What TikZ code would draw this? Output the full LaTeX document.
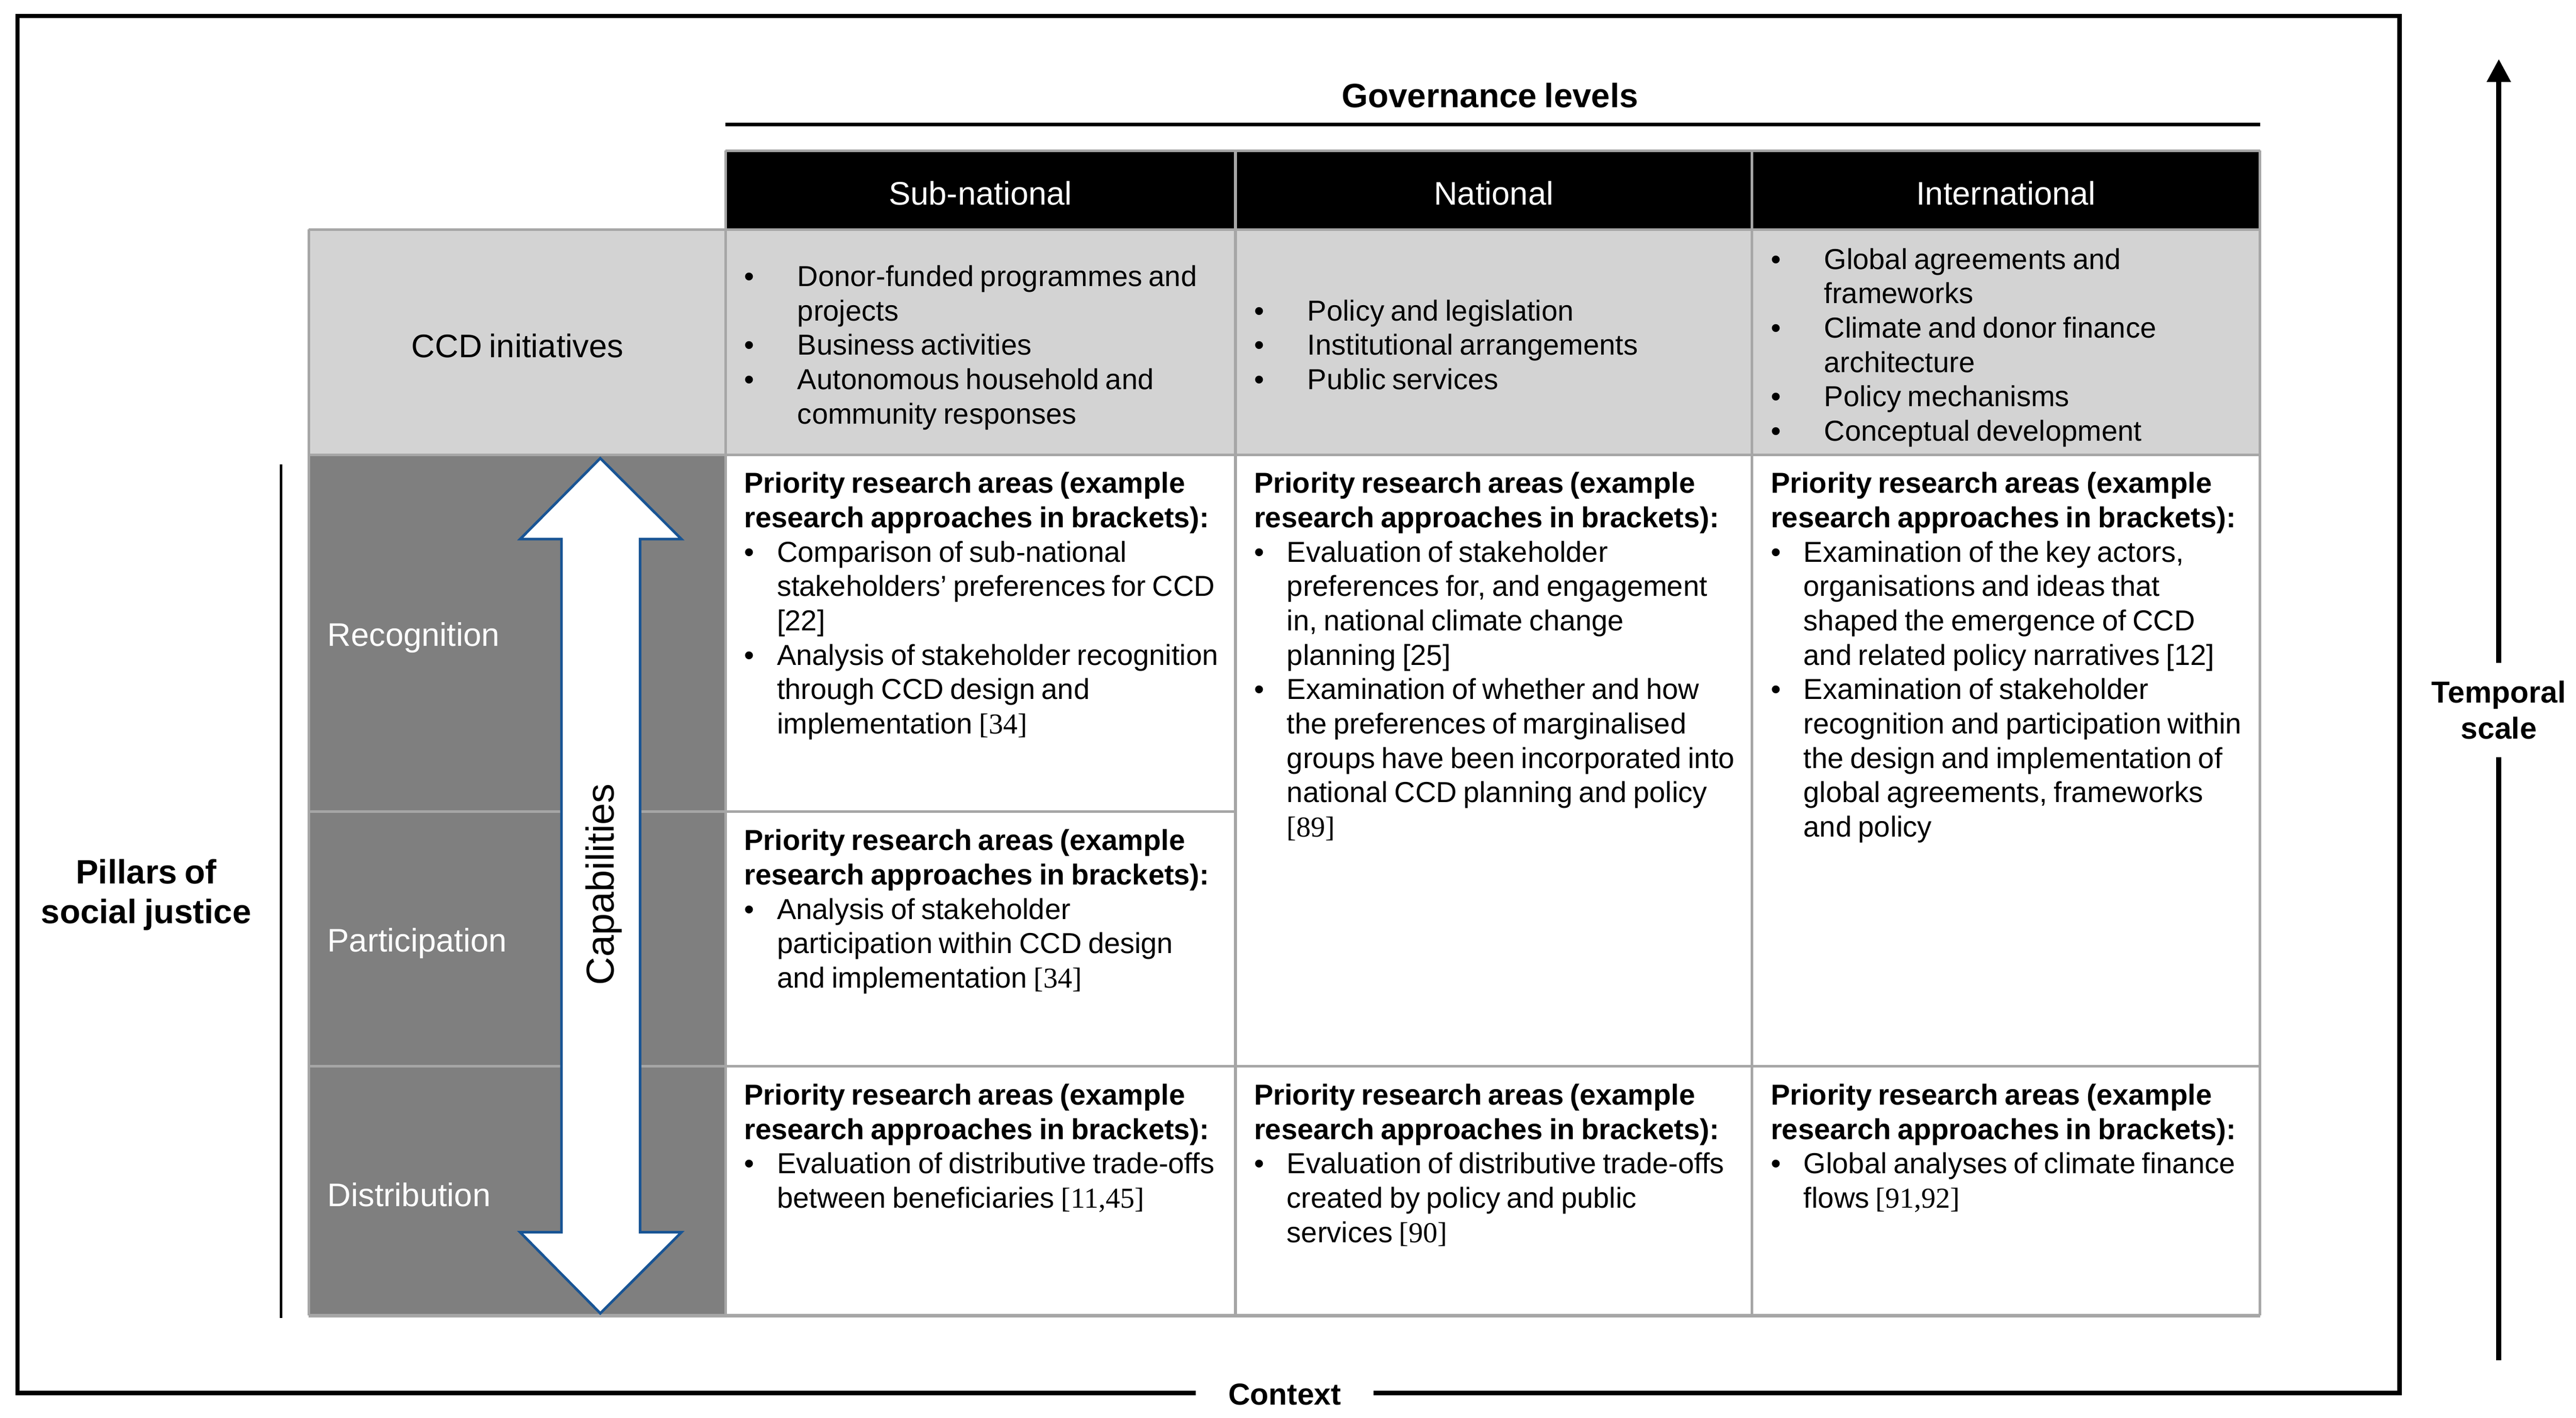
\documentclass[tikz,border=0pt]{standalone}
\usepackage{fontspec}
\setmainfont{Liberation Sans}[WordSpace=0.8]
\newfontfamily\reffont{Liberation Serif}
\usetikzlibrary{arrows.meta, positioning}
\definecolor{gridgray}{RGB}{166,166,166}
\definecolor{ccdgray}{RGB}{211,211,211}
\definecolor{pillargray}{RGB}{127,127,127}
\definecolor{arrowblue}{RGB}{24,84,148}
\tikzstyle{grid} = [
	draw=gridgray,
	line width=0.9pt
]
\tikzstyle{frame} = [
	line width=1.5pt
]
\tikzstyle{header} = [
	text=white,
	font=\fontsize{11.3}{13.5}\selectfont
]
\tikzstyle{rowlabel} = [
	anchor=west,
	inner sep=0pt,
	text=white,
	font=\fontsize{11.3}{13.5}\selectfont
]
\tikzstyle{axislabel} = [
	align=center,
	font=\bfseries\fontsize{11.7}{13.8}\selectfont
]
\tikzstyle{sidelabel} = [
	align=center,
	font=\bfseries\fontsize{10.5}{12.5}\selectfont
]
\tikzstyle{ccdcell} = [
	anchor=west,
	inner sep=0pt,
	font=\fontsize{10}{11.9}\selectfont
]
\tikzstyle{researchcell} = [
	anchor=base west,
	inner sep=0pt,
	font=\fontsize{10}{11.9}\selectfont
]
\tikzstyle{doublearrow} = [
	draw=arrowblue,
	fill=white,
	line width=0.9pt
]
\tikzstyle{arrow} = [line width=1.8pt, -{Triangle[length=0.28cm, width=0.28cm]}]
\newcommand{\bul}{\makebox[0.4cm][l]{\textbullet}}
\newcommand{\cbul}{\makebox[0.65cm][l]{\textbullet}}
\newcommand{\citeno}[1]{{\reffont[#1]}}
\newcommand{\priohead}{\multicolumn{2}{@{}l@{}}{\bfseries Priority research areas (example}\\
	\multicolumn{2}{@{}l@{}}{\bfseries research approaches in brackets):}\\}
\begin{document}
\begin{tikzpicture}[x=0.02cm, y=-0.02cm]
	\useasboundingbox (0,0) rectangle (1568,862.7);

	\fill[black] (441.6,91.7) rectangle (1375.6,139.7);
	\fill[ccdgray] (188,139.7) rectangle (1375.6,276.6);
	\fill[pillargray] (188,276.6) rectangle (441.6,800.4);

	\draw[grid] (441.6,91.7) -- (1375.6,91.7);
	\draw[grid] (188,139.7) -- (1375.6,139.7);
	\draw[grid] (188,276.6) -- (1375.6,276.6);
	\draw[grid] (188,493.9) -- (752,493.9);
	\draw[grid] (188,648.7) -- (1375.6,648.7);
	\draw[grid, line width=1.2pt] (188,800.4) -- (1375.6,800.4);
	\draw[grid] (188,139.7) -- (188,800.4);
	\draw[grid] (441.6,91.7) -- (441.6,800.4);
	\draw[grid] (752,91.7) -- (752,800.4);
	\draw[grid] (1066.5,91.7) -- (1066.5,800.4);
	\draw[grid] (1375.6,91.7) -- (1375.6,800.4);

	\node (gov) [axislabel] at (907,58) {Governance levels};
	\draw[line width=1.2pt] (441.6,75.8) -- (1375.6,75.8);

	\node (hsub) [header] at (596.8,117.7) {Sub-national};
	\node (hnat) [header] at (909.2,117.7) {National};
	\node (hint) [header] at (1221,117.7) {International};

	\node (ccd) [font=\fontsize{11.3}{13.5}\selectfont] at (315,210.3) {CCD initiatives};
	\node (rec) [rowlabel] at (199,387.8) {Recognition};
	\node (par) [rowlabel] at (199,573.8) {Participation};
	\node (dis) [rowlabel] at (199,727) {Distribution};

	\draw[doublearrow] (365.4,278.8) -- (414.8,328) -- (389.6,328) -- (389.6,749.7) -- (414.8,749.7)
		-- (365.4,799) -- (316.6,749.7) -- (341.8,749.7) -- (341.8,328) -- (316.6,328) -- cycle;
	\node (cap) [rotate=90, font=\fontsize{13.5}{16}\selectfont] at (367.5,538) {Capabilities};

	\node (subccd) [ccdcell] at (452.6,211.8) {\begin{tabular}{@{}l@{}l@{}}
		\cbul & Donor-funded programmes and\\
		& projects\\
		\cbul & Business activities\\
		\cbul & Autonomous household and\\
		& community responses
	\end{tabular}};
	\node (natccd) [ccdcell] at (763,211.8) {\begin{tabular}{@{}l@{}l@{}}
		\cbul & Policy and legislation\\
		\cbul & Institutional arrangements\\
		\cbul & Public services
	\end{tabular}};
	\node (intccd) [ccdcell] at (1077.5,211.8) {\begin{tabular}{@{}l@{}l@{}}
		\cbul & Global agreements and\\
		& frameworks\\
		\cbul & Climate and donor finance\\
		& architecture\\
		\cbul & Policy mechanisms\\
		\cbul & Conceptual development
	\end{tabular}};

	\node (subrec) [researchcell] at (452.6,300) {\begin{tabular}[t]{@{}l@{}l@{}}
		\priohead
		\bul & Comparison of sub-national\\
		& stakeholders’ preferences for CCD\\
		& [22]\\
		\bul & Analysis of stakeholder recognition\\
		& through CCD design and\\
		& implementation \citeno{34}
	\end{tabular}};
	\node (natrec) [researchcell] at (763,300) {\begin{tabular}[t]{@{}l@{}l@{}}
		\priohead
		\bul & Evaluation of stakeholder\\
		& preferences for, and engagement\\
		& in, national climate change\\
		& planning [25]\\
		\bul & Examination of whether and how\\
		& the preferences of marginalised\\
		& groups have been incorporated into\\
		& national CCD planning and policy\\
		& \citeno{89}
	\end{tabular}};
	\node (intrec) [researchcell] at (1077.5,300) {\begin{tabular}[t]{@{}l@{}l@{}}
		\priohead
		\bul & Examination of the key actors,\\
		& organisations and ideas that\\
		& shaped the emergence of CCD\\
		& and related policy narratives [12]\\
		\bul & Examination of stakeholder\\
		& recognition and participation within\\
		& the design and implementation of\\
		& global agreements, frameworks\\
		& and policy
	\end{tabular}};
	\node (subpar) [researchcell] at (452.6,517.4) {\begin{tabular}[t]{@{}l@{}l@{}}
		\priohead
		\bul & Analysis of stakeholder\\
		& participation within CCD design\\
		& and implementation \citeno{34}
	\end{tabular}};
	\node (subdis) [researchcell] at (452.6,672.2) {\begin{tabular}[t]{@{}l@{}l@{}}
		\priohead
		\bul & Evaluation of distributive trade-offs\\
		& between beneficiaries \citeno{11,45}
	\end{tabular}};
	\node (natdis) [researchcell] at (763,672.2) {\begin{tabular}[t]{@{}l@{}l@{}}
		\priohead
		\bul & Evaluation of distributive trade-offs\\
		& created by policy and public\\
		& services \citeno{90}
	\end{tabular}};
	\node (intdis) [researchcell] at (1077.5,672.2) {\begin{tabular}[t]{@{}l@{}l@{}}
		\priohead
		\bul & Global analyses of climate finance\\
		& flows \citeno{91,92}
	\end{tabular}};

	\node (pil) [axislabel] at (89,544.5) {Pillars of\\social justice};
	\draw[line width=0.8pt] (171,282.5) -- (171,801.8);

	\node (tmp) [sidelabel, inner ysep=6pt] at (1521,432) {Temporal\\scale};
	\coordinate (ttop) at (1521,35.9);
	\coordinate (tbot) at (1521,827.7);
	\draw[arrow] (tmp.north) -- (ttop);
	\draw[line width=1.8pt] (tbot) -- (tmp.south);

	\node (ctx) [sidelabel, inner xsep=0.39cm] at (782,848.5) {Context};
	\coordinate (bl) at (10.6,847.5);
	\coordinate (tr) at (1460.6,9.8);
	\coordinate (br) at (1460.6,847.5);
	\draw[frame] (ctx.west |- bl) -- (bl) |- (tr) -- (br) -- (ctx.east |- br);
\end{tikzpicture}
\end{document}
